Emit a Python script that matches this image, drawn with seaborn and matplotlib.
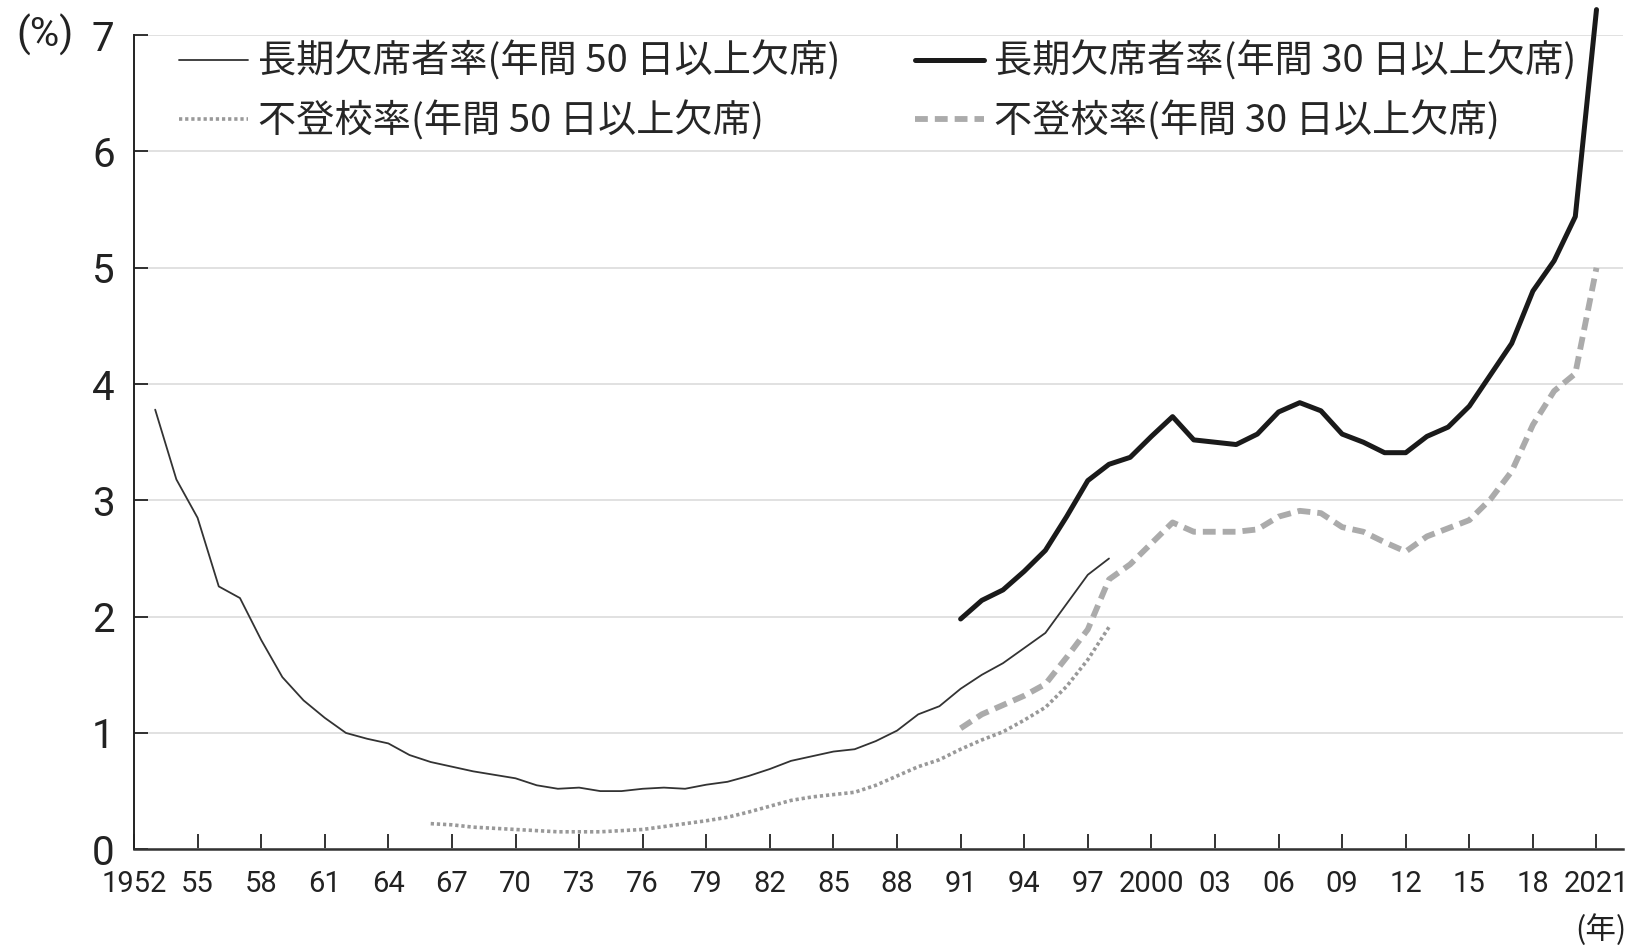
import pandas as pd
import matplotlib
matplotlib.use("Agg")
import matplotlib.pyplot as plt
import seaborn as sns

# 長期欠席者率 (年間50日以上欠席), 1953-1998
years_long50 = list(range(1953, 1999))
long50 = [3.78, 3.18, 2.85, 2.26, 2.16, 1.80, 1.48, 1.28, 1.13, 1.00,
          0.95, 0.91, 0.81, 0.75, 0.71, 0.67, 0.64, 0.61, 0.55, 0.52,
          0.53, 0.50, 0.50, 0.52, 0.53, 0.52, 0.555, 0.58, 0.63, 0.69,
          0.76, 0.80, 0.84, 0.86, 0.93, 1.02, 1.16, 1.23, 1.38, 1.50,
          1.60, 1.73, 1.86, 2.11, 2.36, 2.50]

# 不登校率 (年間50日以上欠席), 1966-1998
years_fut50 = list(range(1966, 1999))
fut50 = [0.22, 0.21, 0.19, 0.18, 0.17, 0.16, 0.15, 0.15, 0.15, 0.16,
         0.17, 0.195, 0.22, 0.245, 0.275, 0.32, 0.37, 0.42, 0.45, 0.47,
         0.49, 0.55, 0.63, 0.71, 0.77, 0.86, 0.94, 1.01, 1.11, 1.22,
         1.40, 1.63, 1.91]

# 長期欠席者率 / 不登校率 (年間30日以上欠席), 1991-2021
years_30 = list(range(1991, 2022))
long30 = [1.98, 2.14, 2.23, 2.39, 2.57, 2.86, 3.17, 3.31, 3.37, 3.55,
          3.72, 3.52, 3.50, 3.48, 3.57, 3.76, 3.84, 3.77, 3.57, 3.50,
          3.41, 3.41, 3.55, 3.63, 3.81, 4.08, 4.35, 4.80, 5.06, 5.44,
          7.22]
fut30 = [1.04, 1.16, 1.24, 1.32, 1.42, 1.65, 1.89, 2.32, 2.45, 2.63,
         2.81, 2.73, 2.73, 2.73, 2.75, 2.86, 2.91, 2.89, 2.77, 2.73,
         2.64, 2.56, 2.69, 2.76, 2.83, 3.01, 3.25, 3.65, 3.94, 4.09,
         5.00]

labels = ['長期欠席者率(年間 50 日以上欠席)', '不登校率(年間 50 日以上欠席)',
          '長期欠席者率(年間 30 日以上欠席)', '不登校率(年間 30 日以上欠席)']

xticks = list(range(1952, 2022, 3))
xticklabels = ['1952'] + [str(y)[2:] for y in xticks[1:]]
xticklabels = ['2000' if t == '00' else t for t in xticklabels]
xticklabels[-1] = '2021'

sns.set_theme(style="white")
plt.rcParams['font.family'] = ['Noto Sans CJK JP', 'DejaVu Sans']
num_font = ['Liberation Sans Narrow', 'Roboto', 'DejaVu Sans']

fig = plt.figure(figsize=(16.3, 9.51), dpi=100)
ax = fig.add_axes([0.0822, 0.107, 0.9135, 0.856])

df1 = pd.DataFrame({'year': years_long50, 'rate': long50})
df2 = pd.DataFrame({'year': years_fut50, 'rate': fut50})
df3 = pd.DataFrame({'year': years_30, 'rate': long30})
df4 = pd.DataFrame({'year': years_30, 'rate': fut30})

sns.lineplot(data=df1, x='year', y='rate', ax=ax, color='#333333', lw=1.3,
             label=labels[0])
sns.lineplot(data=df2, x='year', y='rate', ax=ax, color='#999999', lw=2.6,
             linestyle=(0, (0.9, 0.8)), label=labels[1])
sns.lineplot(data=df3, x='year', y='rate', ax=ax, color='#1a1a1a', lw=3.6,
             label=labels[2], clip_on=False)
sns.lineplot(data=df4, x='year', y='rate', ax=ax, color='#ababab', lw=4.2,
             linestyle=(0, (2.2, 1.2)), label=labels[3])

ax.set_xlim(1952, 2022.25)
ax.set_ylim(0, 7)
ax.set_xlabel('')
ax.set_ylabel('')
ax.set_xticks(xticks)
ax.set_xticklabels(xticklabels, family=num_font, fontsize=21, color='#222222')
ax.set_yticks(range(0, 8))
ax.set_yticklabels([str(v) for v in range(0, 8)], family=num_font,
                   fontsize=29, color='#222222')
ax.tick_params(axis='x', direction='in', length=11, width=1.3, pad=15,
               colors='#222222', bottom=True)
ax.tick_params(axis='y', direction='in', length=10, width=1.3, pad=14,
               colors='#222222', left=True)
ax.yaxis.grid(True, color='#dedede', lw=1.3)
ax.xaxis.grid(False)
sns.despine(ax=ax)
ax.spines['left'].set_color('#222222')
ax.spines['left'].set_linewidth(1.4)
ax.spines['bottom'].set_color('#333333')
ax.spines['bottom'].set_linewidth(1.8)

ax.legend(ncol=2, loc='upper left', bbox_to_anchor=(0.110, 0.956),
          bbox_transform=fig.transFigure, frameon=False, fontsize=27.5,
          handlelength=1.8, handletextpad=0.27, columnspacing=1.95,
          labelspacing=0.5, borderpad=0, borderaxespad=0)

fig.text(45 / 1630, 1 - 35 / 951, '(%)', family=num_font, fontsize=29,
         ha='center', va='center', color='#222222')
fig.text(1627 / 1630, 1 - 930 / 951, '(年)', fontsize=22,
         ha='right', va='center', color='#222222')

fig.savefig('out.png', dpi=100)
